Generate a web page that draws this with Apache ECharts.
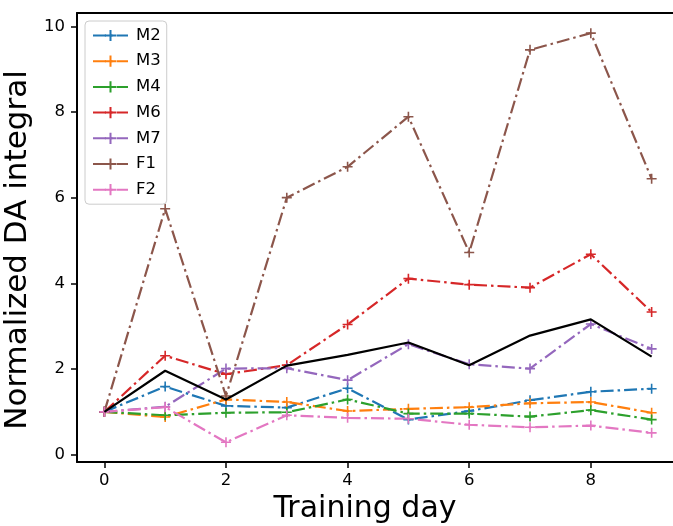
<!DOCTYPE html>
<html>
<head>
<meta charset="utf-8">
<script src="https://cdn.jsdelivr.net/npm/echarts@6/dist/echarts.min.js"></script>
<style>
html,body{margin:0;padding:0;background:#fff;overflow:hidden;}
#chart{width:673px;height:526px;}
</style>
</head>
<body>
<div id="chart"></div>
<script>
var days = [0, 1, 2, 3, 4, 5, 6, 7, 8, 9];
var seriesNames = ['M2', 'M3', 'M4', 'M6', 'M7', 'F1', 'F2'];
var seriesColors = ['#1f77b4', '#ff7f0e', '#2ca02c', '#d62728', '#9467bd', '#8c564b', '#e377c2'];
var M2 = [1.0, 1.59, 1.14, 1.10, 1.55, 0.82, 1.02, 1.27, 1.47, 1.54];
var M3 = [1.0, 0.88, 1.29, 1.23, 1.02, 1.07, 1.11, 1.20, 1.23, 0.98];
var M4 = [1.0, 0.92, 0.98, 0.99, 1.29, 0.96, 0.96, 0.89, 1.04, 0.82];
var M6 = [1.0, 2.31, 1.88, 2.09, 3.04, 4.11, 3.97, 3.90, 4.68, 3.33];
var M7 = [1.0, 1.12, 2.01, 2.02, 1.74, 2.58, 2.11, 2.01, 3.05, 2.47];
var F1 = [1.0, 5.74, 1.37, 6.00, 6.72, 7.89, 4.72, 9.45, 9.84, 6.44];
var F2 = [1.0, 1.11, 0.29, 0.92, 0.86, 0.84, 0.70, 0.64, 0.68, 0.51];
var meanLine = [1.0, 1.96, 1.29, 2.08, 2.33, 2.62, 2.09, 2.78, 3.16, 2.29];
var xTicks = [0, 2, 4, 6, 8];
var yTicks = [0, 2, 4, 6, 8, 10];

var seriesValues = [M2, M3, M4, M6, M7, F1, F2];
var FONT = 'DejaVu Sans';
var plus = 'path://M5,0L5,10M0,5L10,5';
var DASHDOT = [13, 4, 2.5, 4];

function pairs(vals) {
  return days.map(function (d, i) { return [d, vals[i]]; });
}

var series = seriesNames.map(function (n, i) {
  var c = seriesColors[i];
  return {
    name: n,
    type: 'line',
    xAxisIndex: 0,
    yAxisIndex: 0,
    data: pairs(seriesValues[i]),
    symbol: plus,
    symbolSize: 10,
    symbolKeepAspect: true,
    showAllSymbol: true,
    clip: false,
    lineStyle: { color: c, width: 2.2, type: DASHDOT },
    itemStyle: { color: c, borderColor: c, borderWidth: 1.6 },
    emphasis: { disabled: true },
    animation: false,
    z: 2
  };
});
series.push({
  name: 'mean',
  type: 'line',
  xAxisIndex: 0,
  yAxisIndex: 0,
  data: pairs(meanLine),
  symbol: 'none',
  clip: false,
  lineStyle: { color: '#000000', width: 2.2, type: 'solid' },
  itemStyle: { color: '#000000' },
  emphasis: { disabled: true },
  animation: false,
  z: 3
});

var chart = echarts.init(document.getElementById('chart'), null, { renderer: 'canvas', width: 673, height: 526 });
chart.setOption({
  animation: false,
  backgroundColor: '#ffffff',
  grid: { left: 77, top: 13, right: -6, bottom: 64, outerBoundsMode: 'none', containLabel: false, show: false },
  legend: {
    orient: 'vertical',
    left: 85,
    top: 21,
    padding: [6, 6, 6, 7],
    itemWidth: 35,
    itemHeight: 14,
    itemGap: 8.7,
    backgroundColor: 'rgba(255,255,255,0.8)',
    borderColor: '#cccccc',
    borderWidth: 1,
    borderRadius: 4,
    textStyle: { fontFamily: FONT, fontSize: 16.5, color: '#000', padding: [0, 0, 0, 3] },
    data: seriesNames
  },
  xAxis: [{
    type: 'value',
    min: -0.45,
    max: 9.45,
    name: 'Training day',
    nameLocation: 'middle',
    nameGap: 31,
    nameTextStyle: { fontFamily: FONT, fontSize: 30, color: '#000', padding: [0, 26, 0, 0] },
    axisLine: { show: true, onZero: false, lineStyle: { color: '#000', width: 2 } },
    axisTick: { show: true, length: 6, lineStyle: { color: '#000', width: 1.5 }, customValues: xTicks },
    axisLabel: { fontFamily: FONT, fontSize: 16.5, color: '#000', margin: 10, customValues: xTicks },
    splitLine: { show: false }
  }, {
    type: 'value',
    position: 'top',
    min: -0.45,
    max: 9.45,
    axisLine: { show: true, onZero: false, lineStyle: { color: '#000', width: 2 } },
    axisTick: { show: false },
    axisLabel: { show: false },
    splitLine: { show: false }
  }],
  yAxis: [{
    type: 'value',
    position: 'left',
    min: -0.17,
    max: 10.31,
    name: 'Normalized DA integral',
    nameLocation: 'middle',
    nameGap: 37,
    nameRotate: 90,
    nameTextStyle: { fontFamily: FONT, fontSize: 31, color: '#000', padding: [0, 25, 0, 0] },
    axisLine: { show: false, onZero: false },
    axisTick: { show: true, length: 6, lineStyle: { color: '#000', width: 1.5 }, customValues: yTicks },
    axisLabel: { fontFamily: FONT, fontSize: 16.5, color: '#000', margin: 12, customValues: yTicks },
    splitLine: { show: false }
  }, {
    type: 'value',
    position: 'left',
    min: -0.17,
    max: 10.31,
    axisLine: { show: true, onZero: false, lineStyle: { color: '#000', width: 2 } },
    axisTick: { show: false },
    axisLabel: { show: false },
    splitLine: { show: false }
  }],
  series: series
});
</script>
</body>
</html>
